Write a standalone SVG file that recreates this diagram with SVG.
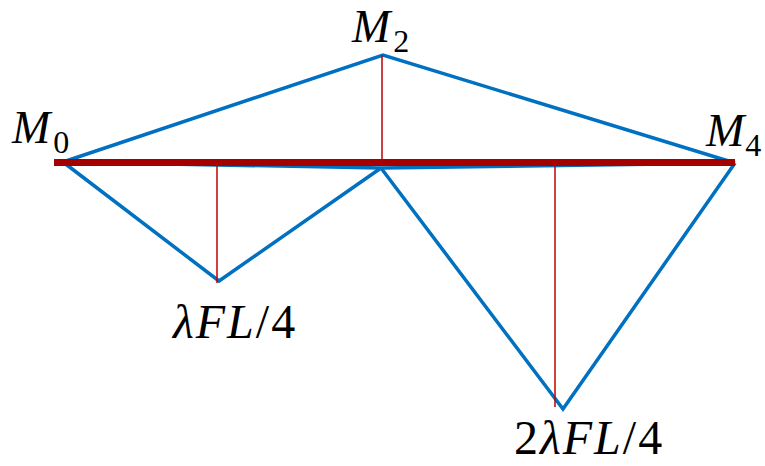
<svg xmlns="http://www.w3.org/2000/svg" width="765" height="466" viewBox="0 0 765 466">
<style>
.blue{fill:none;stroke:#0070C0;stroke-width:3.5;stroke-linejoin:miter}
.thin{stroke:#C00000;stroke-width:1.5}
.bar{stroke:#A50000;stroke-width:7}
.lbl{font-family:"Liberation Serif","DejaVu Serif",serif;font-size:46px;fill:#000}
.val{font-size:48px;letter-spacing:2px}
.it{font-style:italic}
.sub{font-size:32px}
</style>
<rect width="765" height="466" fill="#fff"/>
<g id="connectors">
<polyline class="blue" points="63,162 383,55 735,163"/>
<polyline class="blue" points="63,162 219,281 381,168"/>
<polyline class="blue" points="381,168 563,409 735,163"/>
<polyline class="blue" points="63,162 381,168 735,163"/>
<line class="bar" x1="54" y1="162.5" x2="735" y2="162.5"/>
<line class="thin" x1="217" y1="165" x2="217" y2="283"/>
<line class="thin" x1="382" y1="55" x2="382" y2="162"/>
<line class="thin" x1="555" y1="165" x2="555" y2="407"/>
</g>
<g id="M0"><text class="lbl" x="12" y="143"><tspan class="it">M</tspan><tspan class="sub" dx="3" dy="10">0</tspan></text></g>
<g id="M2"><text class="lbl" x="352" y="42"><tspan class="it">M</tspan><tspan class="sub" dx="3" dy="10">2</tspan></text></g>
<g id="M4"><text class="lbl" x="706" y="146"><tspan class="it">M</tspan><tspan class="sub" dx="1" dy="10">4</tspan></text></g>
<g id="L1"><text class="lbl val" x="173" y="338"><tspan class="it">λFL</tspan>/4</text></g>
<g id="L2"><text class="lbl val" x="514" y="454">2<tspan class="it">λFL</tspan>/4</text></g>
</svg>
